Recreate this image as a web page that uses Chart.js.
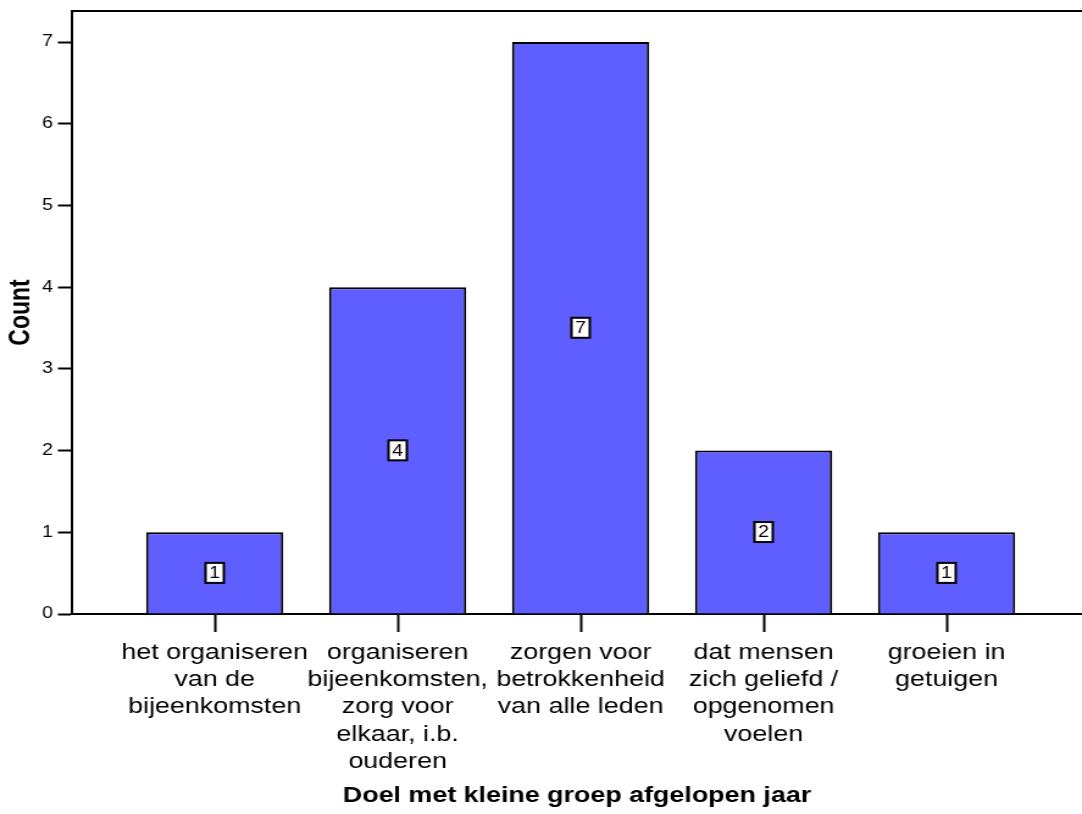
<!DOCTYPE html>
<html>
<head>
<meta charset="utf-8">
<script src="https://cdn.jsdelivr.net/npm/chart.js@4"></script>
<style>
  html, body { margin: 0; padding: 0; background: #fff; overflow: hidden; }
  #wrap { width: 887px; height: 814px; transform: scaleX(1.2198); transform-origin: 0 0; }
  #c { width: 887px; height: 814px; }
</style>
</head>
<body>
<!-- the reference is stretched sideways, so draw narrow and stretch the canvas -->
<div id="wrap"><canvas id="c" width="887" height="814"></canvas></div>
<script>
const categories = [
  ['het organiseren', 'van de', 'bijeenkomsten'],
  ['organiseren', 'bijeenkomsten,', 'zorg voor', 'elkaar, i.b.', 'ouderen'],
  ['zorgen voor', 'betrokkenheid', 'van alle leden'],
  ['dat mensen', 'zich geliefd /', 'opgenomen', 'voelen'],
  ['groeien in', 'getuigen']
]
const counts = [1, 4, 7, 2, 1]
const yTicks = [0, 1, 2, 3, 4, 5, 6, 7]
const xTitle = 'Doel met kleine groep afgelopen jaar'
const yTitle = 'Count'

const font = "'Liberation Sans', Arial, sans-serif"

// white boxes with the count in the middle of each bar, plus the top frame line
const boxLabels = {
  id: 'boxLabels',
  afterDatasetsDraw(chart) {
    const ctx = chart.ctx
    const area = chart.chartArea
    ctx.save()
    ctx.strokeStyle = '#000'
    ctx.lineWidth = 2
    ctx.beginPath()
    ctx.moveTo(area.left, area.top)
    ctx.lineTo(chart.width, area.top)
    ctx.stroke()
    const meta = chart.getDatasetMeta(0)
    ctx.font = '16px ' + font
    ctx.textAlign = 'center'
    ctx.textBaseline = 'middle'
    meta.data.forEach((bar, i) => {
      const x = bar.x
      const y = (bar.y + bar.base) / 2
      const w = 15, h = 20
      ctx.fillStyle = '#fff'
      ctx.fillRect(x - w / 2, y - h / 2, w, h)
      ctx.strokeRect(x - w / 2, y - h / 2, w, h)
      ctx.fillStyle = '#000'
      ctx.fillText(String(counts[i]), x, y + 1)
    })
    ctx.restore()
  }
}

new Chart(document.getElementById('c'), {
  type: 'bar',
  data: {
    datasets: [{
      data: counts.map((v, i) => ({ x: i, y: v })),
      backgroundColor: '#5f5fff',
      borderColor: '#000',
      borderWidth: 2,
      barPercentage: 0.75,
      categoryPercentage: 1.0
    }]
  },
  options: {
    responsive: false,
    animation: false,
    layout: { padding: { top: 11, right: 0, left: 0, bottom: 0 } },
    plugins: {
      legend: { display: false },
      tooltip: { enabled: false }
    },
    scales: {
      x: {
        type: 'linear',
        offset: false,
        min: -0.78,
        max: 4.74,
        afterBuildTicks: (scale) => { scale.ticks = categories.map((c, i) => ({ value: i })) },
        afterFit: (scale) => {
          scale.height = 200
          scale.paddingLeft = 0
          scale.paddingRight = 0
        },
        grid: { offset: false, drawOnChartArea: false, tickLength: 18, tickColor: '#000', tickWidth: 2 },
        border: { color: '#000', width: 2 },
        ticks: {
          autoSkip: false,
          maxRotation: 0,
          padding: 7,
          color: '#000',
          font: { family: font, size: 22, lineHeight: 1.24 },
          callback: (v) => categories[v]
        },
        title: {
          display: true,
          text: xTitle,
          color: '#000',
          font: { family: font, size: 22, weight: 'bold' },
          padding: { top: 0, bottom: 5 }
        }
      },
      y: {
        min: 0,
        max: 7.38,
        afterBuildTicks: (scale) => { scale.ticks = yTicks.map(v => ({ value: v })) },
        afterFit: (scale) => {
          scale.width = 59
          scale.paddingTop = 0
          scale.paddingBottom = 0
        },
        grid: { drawOnChartArea: false, tickLength: 11.5, tickColor: '#000', tickWidth: 2 },
        border: { color: '#000', width: 2 },
        ticks: {
          padding: 4,
          color: '#000',
          font: { family: font, size: 16 }
        },
        title: {
          display: true,
          text: yTitle,
          color: '#000',
          font: { family: font, size: 23, weight: 'bold' },
          padding: { top: 4, bottom: 0 }
        }
      }
    }
  },
  plugins: [boxLabels]
})
</script>
</body>
</html>
